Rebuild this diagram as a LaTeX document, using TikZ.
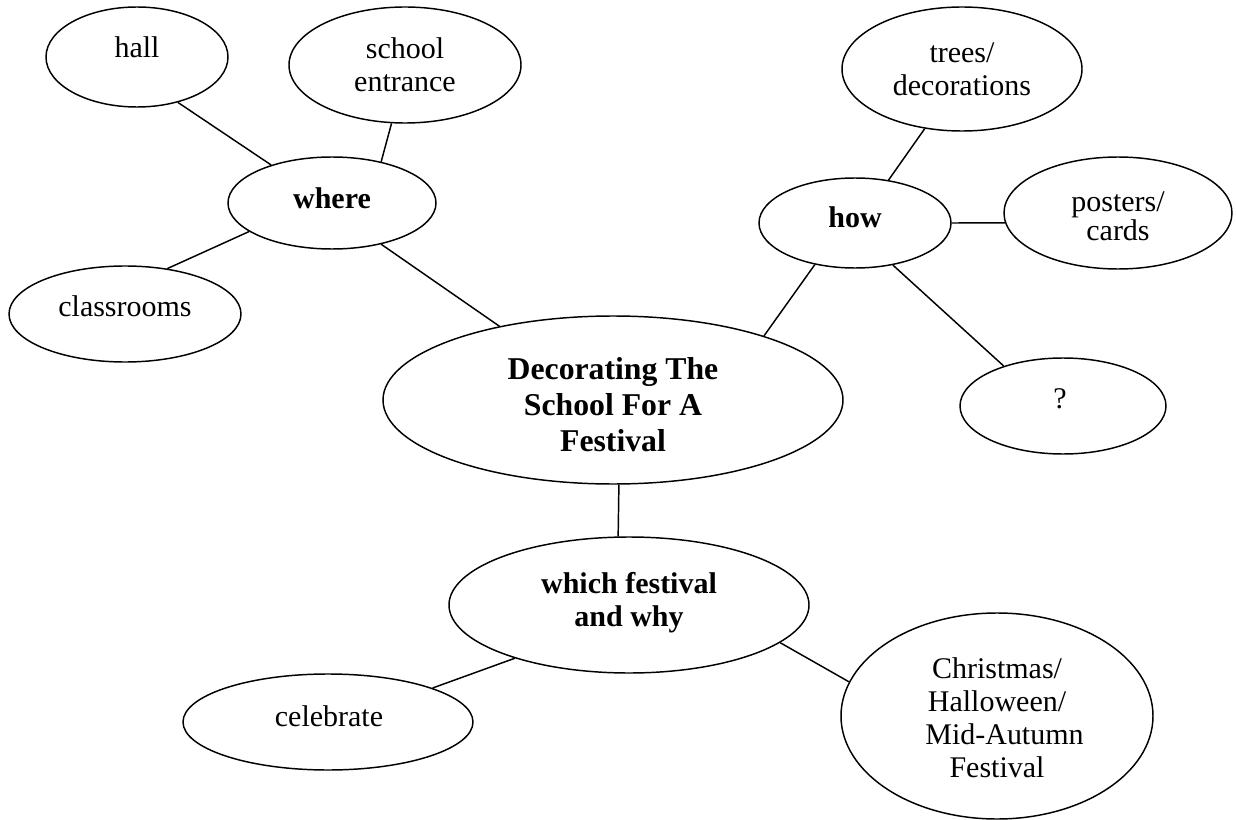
\documentclass[tikz,border=0pt]{standalone}
\usepackage{fontspec}
\setmainfont{Liberation Serif}
\usetikzlibrary{shapes.geometric}
\begin{document}
\begin{tikzpicture}[x=0.75pt,y=-0.75pt,
  bub/.style 2 args={ellipse, draw, line width=1.1pt, inner sep=0pt, minimum width={1.5*#1 pt}, minimum height={1.5*#2 pt}},
  txt/.style={font=\fontsize{22.5}{24.75}\selectfont, align=center, inner sep=0pt, text depth=0pt},
  btxt/.style={txt, font=\fontsize{22.5}{24.75}\selectfont\bfseries},
  link/.style={line width=1.1pt}
]
\useasboundingbox (0,0) rectangle (1236,820);

\node[bub={91}{50}, label={[txt,shift={(0,-10)}]center:{hall}}] (hall) at (137,57) {};
\node[bub={116}{58}, label={[txt,shift={(0,0)}]center:{school\\entrance}}] (school) at (405,65) {};
\node[bub={104}{46}, label={[btxt,shift={(0,-5)}]center:{where}}] (where) at (332,203) {};
\node[bub={116}{48}, label={[txt,shift={(0,-8)}]center:{classrooms}}] (classrooms) at (125,314) {};
\node[bub={230}{84}, label={[btxt,font=\fontsize{23.8}{27}\selectfont\bfseries,shift={(0,4)}]center:{Decorating The\\School For A\\Festival}}] (deco) at (613,400) {};
\node[bub={120}{62}, label={[txt,shift={(0,0)}]center:{trees/\\decorations}}] (trees) at (962,69) {};
\node[bub={96}{45}, label={[btxt,shift={(0,-6)}]center:{how}}] (how) at (855,223) {};
\node[bub={114}{56}, label={[txt,font=\fontsize{22.5}{21.5}\selectfont,shift={(0,3)}]center:{posters/\\cards}}] (posters) at (1118,213) {};
\node[bub={103}{48}, label={[txt,shift={(-3,-7)}]center:{?}}] (q) at (1063,406) {};
\node[bub={180}{68}, label={[btxt,shift={(0,-6)}]center:{which festival\\and why}}] (which) at (629,605) {};
\node[bub={145}{48}, label={[txt,shift={(1,-6)}]center:{celebrate}}] (celebrate) at (328,722) {};
\node[bub={156}{103}, label={[txt,shift={(0,2)}]center:{Christmas/\\Halloween/\\\hspace*{0.5em}Mid-Autumn\\Festival}}] (christmas) at (997,716) {};

\draw[link] (hall.-48) -- (where.148);
\draw[link] (school.-103) -- (where.40.5);
\draw[link] (classrooms.47.6) -- (where.-161);
\draw[link] (where.-40) -- (deco.147);
\draw[link] (trees.-122.6) -- (how.52);
\draw[link] (how.0) -- (posters.-175);
\draw[link] (how.-48.5) -- (q.146.5);
\draw[link] (how.-134) -- (deco.23);
\draw[link] (deco.-86.5) -- (which.99.2);
\draw[link] (which.-155.8) -- (celebrate.18.6);
\draw[link] (which.-14.8) -- (christmas.167);
\end{tikzpicture}
\end{document}
